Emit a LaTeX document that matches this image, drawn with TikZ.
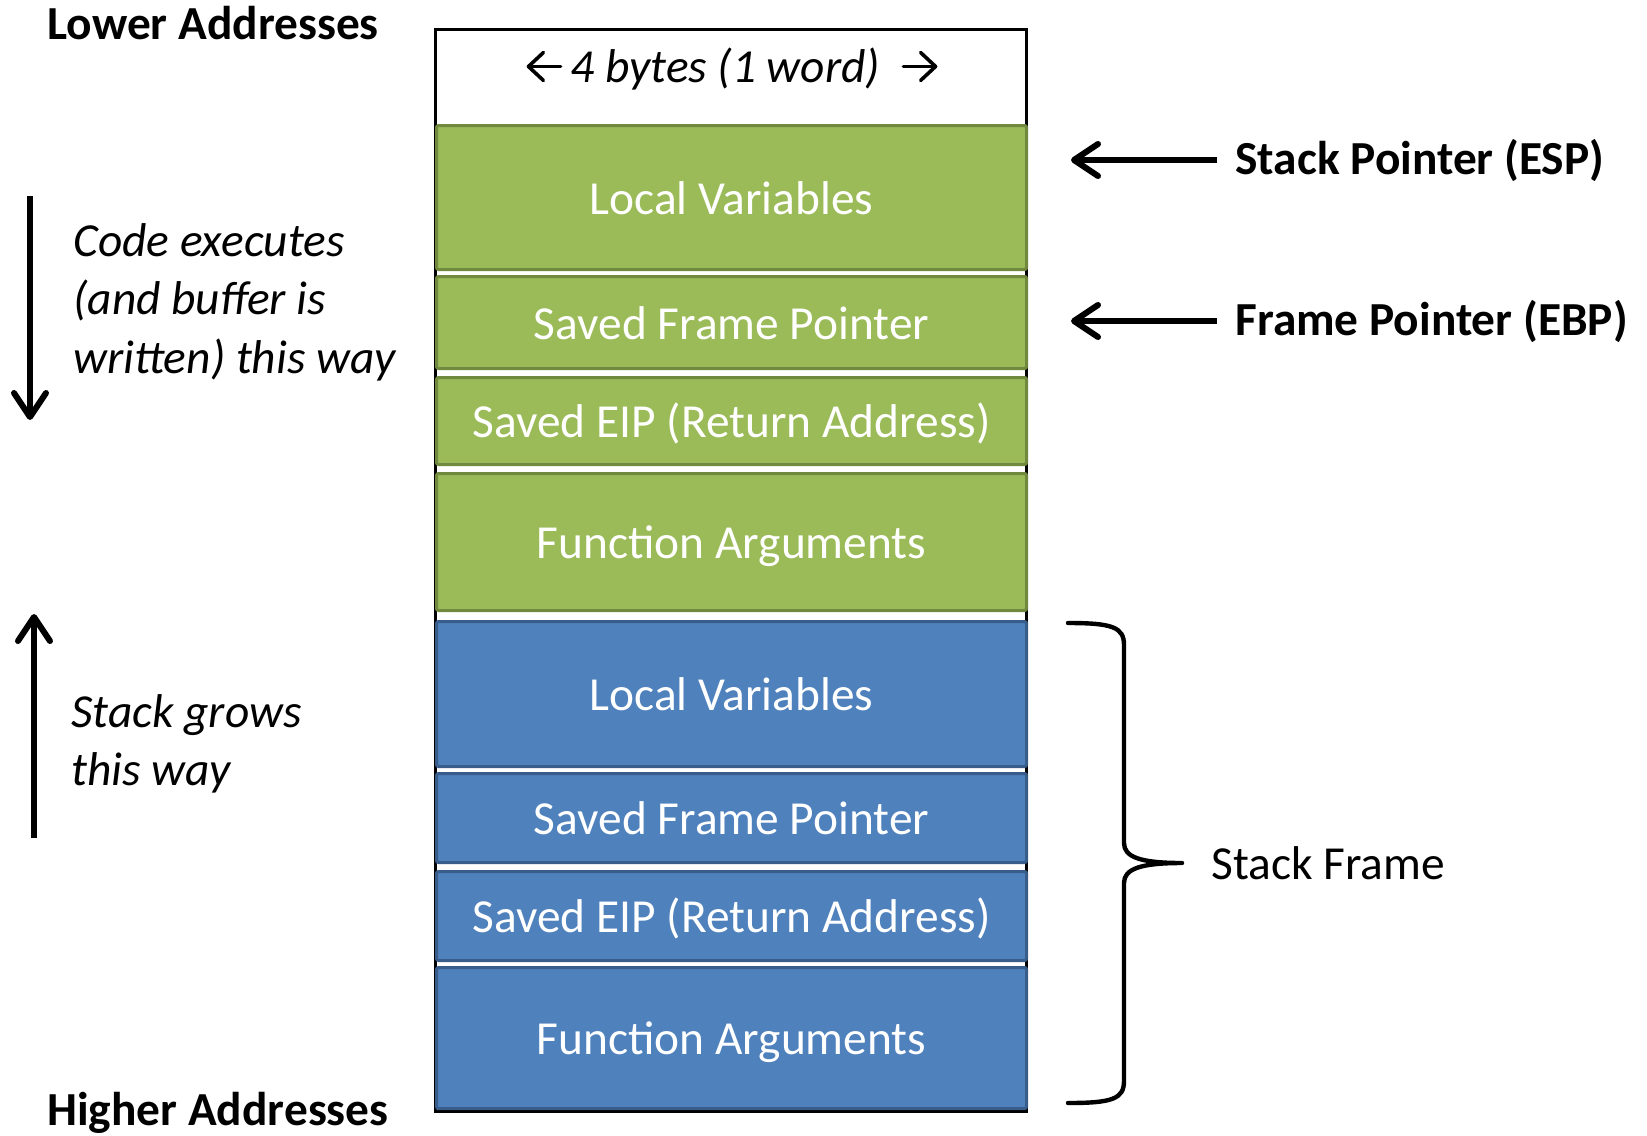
\documentclass[tikz,border=0pt]{standalone}
\usepackage{fontspec}
\setmainfont{Carlito}
\usetikzlibrary{arrows.meta}
\definecolor{gfill}{HTML}{9BBB59}
\definecolor{gline}{HTML}{71893F}
\definecolor{bfill}{HTML}{4F81BD}
\definecolor{bline}{HTML}{385D8A}
\tikzset{
  lbl/.style={inner sep=0pt, font=\fontsize{23.7}{29.3}\selectfont},
  cell/.style={lbl, minimum width=295pt, text=white, line width=1.5pt, rounded corners=1pt, text height=16.5pt, text depth=0pt},
  gcell/.style={cell, fill=gfill, draw=gline},
  bcell/.style={cell, fill=bfill, draw=bline},
  bigarrow/.style={line width=3pt, -{Straight Barb[length=12pt,width=16pt,round]}},
  hdrarrow/.style={line width=1.8pt, line cap=round, -{Straight Barb[length=7.5pt,width=14pt,round]}},
}
\newcommand{\hdrarrowL}{\tikz[baseline=-8pt]\draw[hdrarrow] (17pt,0) -- (0,0);}
\newcommand{\hdrarrowR}{\tikz[baseline=-8pt]\draw[hdrarrow] (0,0) -- (17pt,0);}
\begin{document}
\begin{tikzpicture}[x=0.5pt, y=-0.5pt]
\useasboundingbox (0,0) rectangle (1647,1135);
% outer frame
\draw[line width=1.5pt] (435.5,29.5) rectangle (1026.5,1111.5);
\node[lbl] (hdr) at (732,69) {\hdrarrowL\,\textit{4 bytes (1 word)}\ \ \hdrarrowR};
% green frame
\node[gcell, minimum height=72pt]   (glv)  at (731.5,197.5) {Local Variables};
\node[gcell, minimum height=46pt]   (gsfp) at (731.5,322.5) {Saved Frame Pointer};
\node[gcell, minimum height=43.5pt] (geip) at (731.5,421)   {Saved EIP (Return Address)};
\node[gcell, minimum height=68.5pt] (gfa)  at (731.5,542)   {Function Arguments};
% blue frame
\node[bcell, minimum height=72.5pt] (blv)  at (731.5,694)   {Local Variables};
\node[bcell, minimum height=44.5pt] (bsfp) at (731.5,818)   {Saved Frame Pointer};
\node[bcell, minimum height=44.5pt] (beip) at (731.5,916)   {Saved EIP (Return Address)};
\node[bcell, minimum height=70.5pt] (bfa)  at (731.5,1038)  {Function Arguments};
% left labels
\node[lbl, anchor=west] (low) at (47,23) {\textbf{Lower Addresses}};
\node[lbl, anchor=west] (high) at (47,1113) {\textbf{Higher Addresses}};
\node[lbl, anchor=west, align=left] (code) at (73,302) {\textit{Code executes}\\\textit{(and buffer is}\\\textit{written) this way}};
\node[lbl, anchor=west, align=left] (grow) at (71,744) {\textit{Stack grows}\\\textit{this way}};
\coordinate (dtop) at (30,196);
\coordinate (dbot) at (30,420);
\draw[bigarrow] (dtop) -- (dbot);
\coordinate (ubot) at (34,838);
\coordinate (utop) at (34,614);
\draw[bigarrow] (ubot) -- (utop);
% right labels
\node[lbl, anchor=west] (esp) at (1235,160) {\textbf{Stack Pointer (ESP)}};
\node[lbl, anchor=west] (ebp) at (1235,321) {\textbf{Frame Pointer (EBP)}};
\coordinate (espt) at (1071,160);
\coordinate (ebpt) at (1071,321);
\draw[bigarrow] (esp.west) ++(-18,0) -- (espt);
\draw[bigarrow] (ebp.west) ++(-18,0) -- (ebpt);
% brace
\node[lbl, anchor=west] (sf) at (1211,863) {Stack Frame};
\draw[line width=2.2pt, line cap=round, line join=round]
  (1068,623) .. controls (1112,623) and (1124,627) .. (1124,645)
  -- (1124,843) .. controls (1124,857) and (1140,863) .. (1182,863)
  .. controls (1140,863) and (1124,869) .. (1124,883)
  -- (1124,1081) .. controls (1124,1099) and (1112,1103) .. (1068,1103);
\end{tikzpicture}
\end{document}
